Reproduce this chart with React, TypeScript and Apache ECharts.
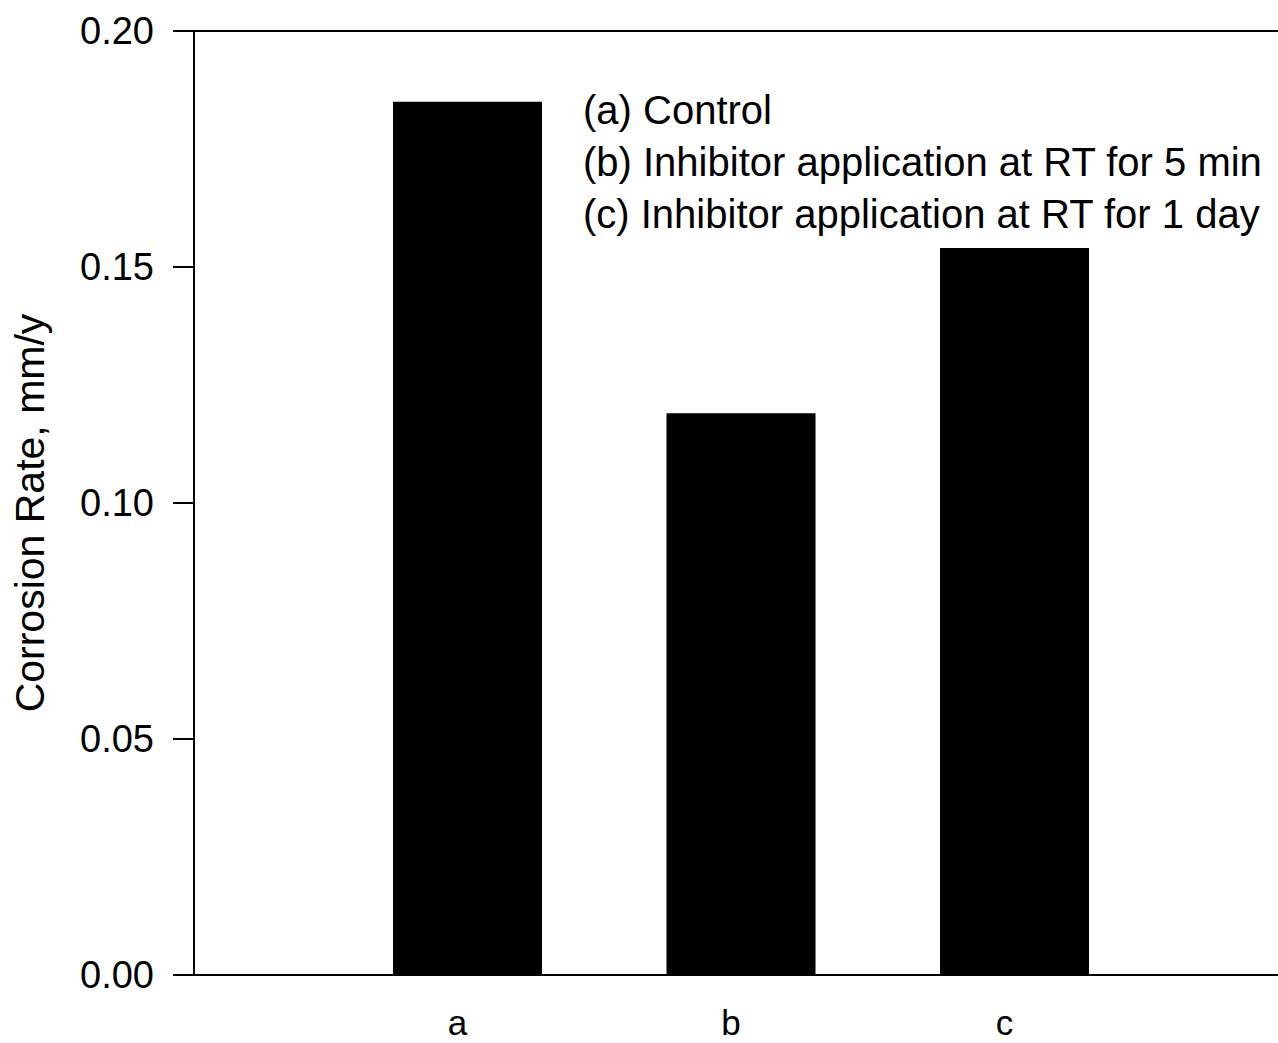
import React, { useEffect, useRef } from "react";
import * as echarts from "echarts";

// Bar positions on the horizontal value scale and their letters
const barPositions = [1, 2, 3];
const categories = ["a", "b", "c"];
const corrosionRate = [0.185, 0.119, 0.154];
const yTicks = [0, 0.05, 0.1, 0.15, 0.2];
const legendLines = [
  "(a) Control",
  "(b) Inhibitor application at RT for 5 min",
  "(c) Inhibitor application at RT for 1 day",
];

const FONT = "'Liberation Sans', Arial, Helvetica, sans-serif";

export default function App() {
  const ref = useRef<HTMLDivElement>(null);

  useEffect(() => {
    if (!ref.current) return;
    const chart = echarts.init(ref.current, null, { renderer: "svg" });
    const gridLeft = 194;
    const gridTop = 31;
    const gridHeight = 944;
    const slot = 273.5;
    const gridWidth = 1278 - gridLeft;
    const xMax = gridWidth / slot;
    const letterAt = (v: number) => {
      const i = barPositions.indexOf(Math.round(v));
      return Math.abs(v - Math.round(v)) < 1e-6 && i >= 0 ? categories[i] : "";
    };
    const axisLine = { show: true, lineStyle: { color: "#000", width: 2 } };
    chart.setOption({
      animation: false,
      backgroundColor: "#ffffff",
      grid: { left: gridLeft, top: gridTop, right: 0, height: gridHeight },
      xAxis: [
        {
          type: "value",
          min: 0,
          max: xMax,
          interval: 1,
          axisLine,
          axisTick: { show: false },
          splitLine: { show: false },
          axisLabel: {
            color: "#000",
            fontFamily: FONT,
            fontSize: 35,
            lineHeight: 30,
            margin: 32,
            padding: [0, 20, 0, 0],
            showMaxLabel: false,
            formatter: (v: number) => letterAt(v),
          },
        },
        {
          type: "value",
          position: "top",
          min: 0,
          max: xMax,
          axisLine,
          axisTick: { show: false },
          splitLine: { show: false },
          axisLabel: { show: false },
        },
      ],
      yAxis: {
        type: "value",
        min: yTicks[0],
        max: yTicks[yTicks.length - 1],
        interval: 0.05,
        name: "Corrosion Rate, mm/y",
        nameLocation: "middle",
        nameGap: 144,
        nameTextStyle: {
          color: "#000",
          fontFamily: FONT,
          fontSize: 41,
          padding: [0, 20, 0, 0],
        },
        axisLine,
        axisTick: {
          show: true,
          inside: false,
          length: 21,
          lineStyle: { color: "#000", width: 2 },
        },
        splitLine: { show: false },
        axisLabel: {
          color: "#000",
          fontFamily: FONT,
          fontSize: 38,
          margin: 40,
          formatter: (v: number) => v.toFixed(2),
        },
      },
      series: [
        {
          type: "bar",
          data: barPositions.map((x, i) => [x, corrosionRate[i]]),
          barWidth: 149,
          itemStyle: { color: "#000" },
        },
      ],
      graphic: legendLines.map((line, i) => ({
        type: "text",
        left: 583,
        top: 90 + i * 52,
        style: {
          text: line,
          fill: "#000",
          font: `40px ${FONT}`,
        },
      })),
    });
    return () => chart.dispose();
  }, []);

  return (
    <div
      ref={ref}
      style={{ position: "fixed", left: 0, top: 0, width: 1278, height: 1043 }}
    />
  );
}
